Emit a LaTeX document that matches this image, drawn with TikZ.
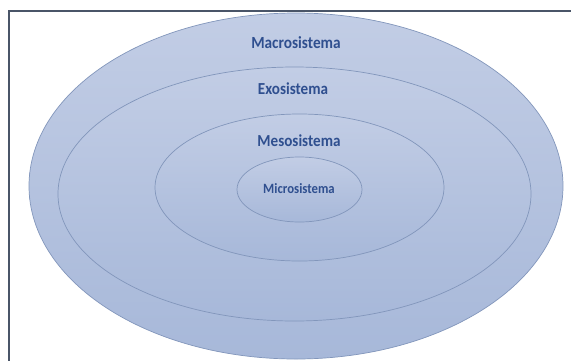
\documentclass[tikz,border=0pt]{standalone}
\usepackage{fontspec}
\setmainfont{Carlito}
\definecolor{ringtop}{HTML}{C2CDE5}
\definecolor{ringbot}{HTML}{A7B8D9}
\definecolor{ringline}{HTML}{8296BB}
\definecolor{txtblue}{HTML}{2F4F8F}
\definecolor{framec}{HTML}{4A5568}
\tikzset{
  ring/.style={draw=ringline, line width=0.7pt, top color=ringtop, bottom color=ringbot},
  lbl/.style={text=txtblue, inner sep=0pt, xscale=0.9, transform shape}
}
\begin{document}
\begin{tikzpicture}[x=1pt,y=-1pt]
\useasboundingbox (0,0) rectangle (571,360);
\draw[framec, line width=1.4pt] (9,380) -- (9,11) -- (590,11);
\path[ring] (296,186) ellipse [x radius=267pt, y radius=173pt];
\path[ring] (294.5,194) ellipse [x radius=236.5pt, y radius=127pt];
\path[ring] (299.5,187.5) ellipse [x radius=144.5pt, y radius=73.5pt];
\path[ring] (299.5,189.5) ellipse [x radius=62.5pt, y radius=32.5pt];
\node[lbl, font=\bfseries\fontsize{17}{19}\selectfont] (macro) at (296,43) {Macrosistema};
\node[lbl, font=\bfseries\fontsize{16.8}{19}\selectfont] (exo) at (293,89) {Exosistema};
\node[lbl, font=\bfseries\fontsize{16.8}{19}\selectfont] (meso) at (299,141) {Mesosistema};
\node[lbl, font=\bfseries\fontsize{14.2}{16}\selectfont] (micro) at (299,189) {Microsistema};
\end{tikzpicture}
\end{document}
